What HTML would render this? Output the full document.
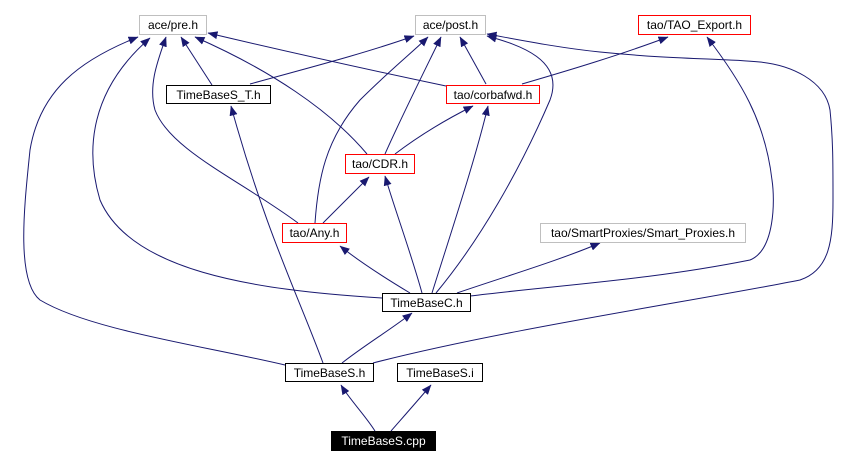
<!DOCTYPE html>
<html><head><meta charset="utf-8"><style>
html,body{margin:0;padding:0;background:#fff;}
svg{display:block;}
text{font-family:"Liberation Sans",sans-serif;font-size:12px;}
</style></head><body>
<svg width="860" height="465" viewBox="0 0 860 465" xmlns="http://www.w3.org/2000/svg">
<defs>
<marker id="a" markerWidth="10" markerHeight="8" refX="9.5" refY="4" orient="auto" markerUnits="userSpaceOnUse">
<path d="M0,0 L10,4 L0,8 z" fill="#191970"/>
</marker>
</defs>
<g fill="none" stroke="#191970" stroke-width="1" marker-end="url(#a)">
<path d="M212,85 L181,37"/>
<path d="M250,84 C300,70 360,55 414,36"/>
<path d="M446,86 C370,70 280,50 208,33"/>
<path d="M486,84 L460,37"/>
<path d="M522,84 C570,70 620,55 668,37"/>
<path d="M367,154 C330,110 270,70 195,37"/>
<path d="M385,154 C400,120 420,80 441,37"/>
<path d="M395,154 C420,135 445,120 473,106"/>
<path d="M298,223 C240,180 170,150 155,110 C148,85 158,60 166,37"/>
<path d="M315,223 C318,180 325,140 360,100 C390,70 415,50 428,37"/>
<path d="M323,223 L369,177"/>
<path d="M382,298 C250,290 130,270 100,200 C85,150 90,90 150,38"/>
<path d="M410,293 C385,278 360,262 340,246"/>
<path d="M422,293 C410,250 395,210 385,176"/>
<path d="M432,293 C455,220 475,160 488,106"/>
<path d="M436,293 C480,240 520,170 550,100 C565,60 520,45 487,36"/>
<path d="M457,293 C510,275 560,260 600,243"/>
<path d="M470,296 C560,285 650,280 750,260 C775,250 775,200 772,180 C765,120 740,80 707,37"/>
<path d="M285,365 C200,345 90,330 40,300 C15,280 25,200 30,150 C40,90 80,60 138,37"/>
<path d="M323,363 C300,300 265,230 231,106"/>
<path d="M342,363 C365,345 390,330 412,313"/>
<path d="M373,363 C500,330 700,300 800,280 C830,270 833,240 833,200 C833,160 833,140 830,110 C825,80 790,65 760,62 C720,58 680,60 600,52 C560,48 520,40 487,34"/>
<path d="M375,431 C365,415 350,400 341,385"/>
<path d="M391,431 C405,415 420,398 431,385"/>
</g>
<g stroke-width="1">
<rect x="139.5" y="15.5" width="67" height="19" fill="#fff" stroke="#bfbfbf"/>
<text x="173" y="29" text-anchor="middle">ace/pre.h</text>
<rect x="415.5" y="15.5" width="70" height="19" fill="#fff" stroke="#bfbfbf"/>
<text x="450.5" y="29" text-anchor="middle">ace/post.h</text>
<rect x="638.5" y="15.5" width="112" height="19" fill="#fff" stroke="#ff0000"/>
<text x="694.5" y="29" text-anchor="middle">tao/TAO_Export.h</text>
<rect x="166.5" y="85.5" width="104" height="18" fill="#fff" stroke="#000"/>
<text x="218.5" y="99" text-anchor="middle">TimeBaseS_T.h</text>
<rect x="446.5" y="85.5" width="93" height="18" fill="#fff" stroke="#ff0000"/>
<text x="493" y="99" text-anchor="middle">tao/corbafwd.h</text>
<rect x="345.5" y="154.5" width="69" height="19" fill="#fff" stroke="#ff0000"/>
<text x="380" y="168" text-anchor="middle">tao/CDR.h</text>
<rect x="282.5" y="223.5" width="64" height="19" fill="#fff" stroke="#ff0000"/>
<text x="314.5" y="237" text-anchor="middle">tao/Any.h</text>
<rect x="540.5" y="223.5" width="205" height="19" fill="#fff" stroke="#bfbfbf"/>
<text x="643" y="237" text-anchor="middle">tao/SmartProxies/Smart_Proxies.h</text>
<rect x="382.5" y="293.5" width="88" height="18" fill="#fff" stroke="#000"/>
<text x="426.5" y="307" text-anchor="middle">TimeBaseC.h</text>
<rect x="285.5" y="363.5" width="88" height="18" fill="#fff" stroke="#000"/>
<text x="329.5" y="377" text-anchor="middle">TimeBaseS.h</text>
<rect x="397.5" y="363.5" width="85" height="18" fill="#fff" stroke="#000"/>
<text x="440" y="377" text-anchor="middle">TimeBaseS.i</text>
<rect x="331" y="431" width="105" height="20" fill="#000"/>
<text x="383.5" y="445" text-anchor="middle" fill="#fff">TimeBaseS.cpp</text>
</g>
</svg>
</body></html>
